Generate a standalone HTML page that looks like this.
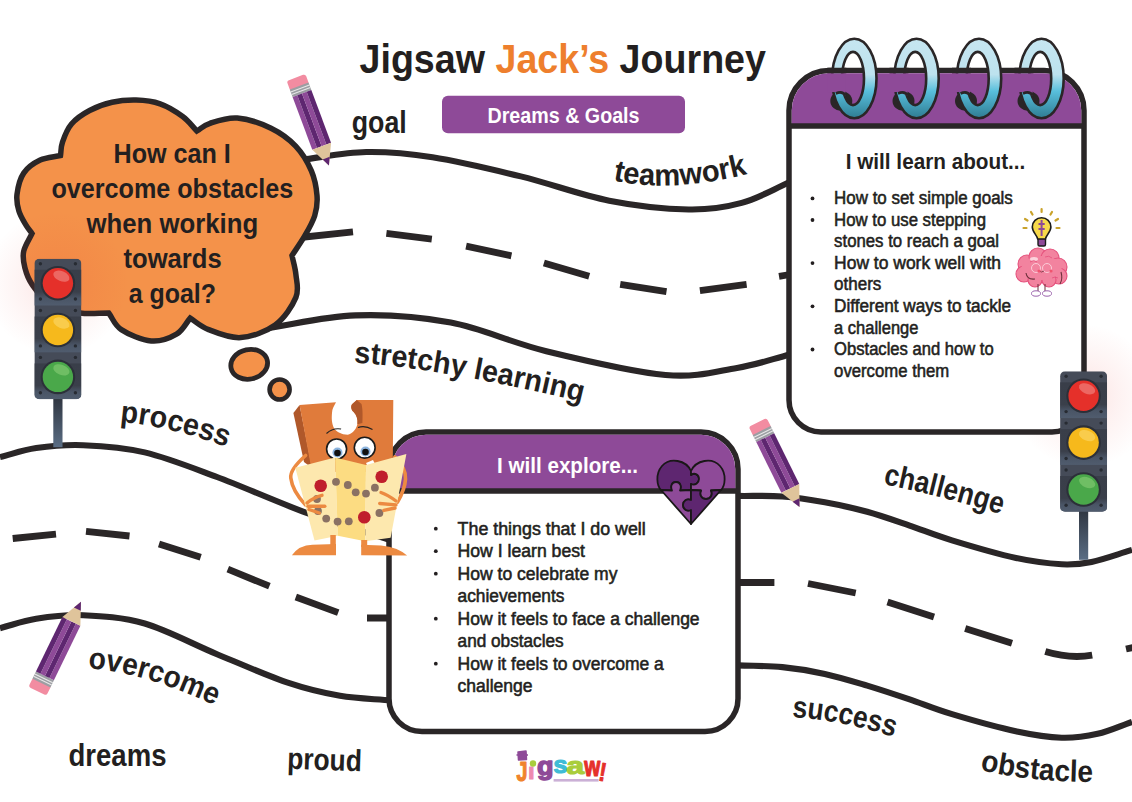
<!DOCTYPE html>
<html><head><meta charset="utf-8">
<style>
html,body{margin:0;padding:0;background:#fff;width:1132px;height:802px;overflow:hidden}
svg{display:block}
text{font-family:"Liberation Sans",sans-serif}
</style></head><body>
<svg width="1132" height="802" viewBox="0 0 1132 802">
<defs>
<linearGradient id="ring" x1="0" y1="0" x2="0" y2="1">
<stop offset="0" stop-color="#c6e6f1"/><stop offset="0.45" stop-color="#bde2ee"/><stop offset="0.66" stop-color="#58bfdc"/><stop offset="1" stop-color="#2f7c92"/>
</linearGradient>
<radialGradient id="glow" cx="0.5" cy="0.5" r="0.5">
<stop offset="0" stop-color="#e8302a" stop-opacity="0.13"/><stop offset="0.5" stop-color="#e8302a" stop-opacity="0.06"/><stop offset="1" stop-color="#e8302a" stop-opacity="0"/>
</radialGradient>
<linearGradient id="tlsec" x1="0" y1="0" x2="0" y2="1">
<stop offset="0" stop-color="#393e49"/><stop offset="0.62" stop-color="#3a3f4a"/><stop offset="0.8" stop-color="#4a5566"/><stop offset="1" stop-color="#505c6e"/>
</linearGradient>
<linearGradient id="pole" x1="0" y1="0" x2="0" y2="1">
<stop offset="0" stop-color="#2f3540"/><stop offset="1" stop-color="#5a6d84"/>
</linearGradient>
</defs>
<g fill="none" stroke="#2a2627" stroke-width="6.1">
<path d="M300.0 160.0 C322.1 157.3 344.2 152.4 366.3 152.0 C388.4 151.6 406.8 153.2 432.5 157.3 C458.2 161.4 491.3 169.2 520.8 176.4 C550.2 183.6 581.2 195.2 609.2 200.7 C637.2 206.2 666.6 209.1 688.7 209.5 C710.8 209.9 724.8 207.5 741.7 202.9 C758.6 198.3 773.9 189.0 790.0 182.0"/>
<path d="M262.0 329.0 C293.1 324.5 323.9 316.5 355.4 315.4 C386.9 314.3 419.0 316.6 450.8 322.6 C482.6 328.6 510.5 342.5 546.3 351.2 C582.1 359.9 633.7 372.2 665.5 375.0 C697.3 377.8 716.2 371.3 737.0 367.9 C757.8 364.5 772.3 359.0 790.0 354.5"/>
<path d="M0.0 457.1 C12.1 454.1 22.3 450.1 36.2 448.1 C50.1 446.1 65.1 444.5 83.2 445.2 C101.3 445.9 122.4 447.1 144.7 452.4 C167.0 457.7 189.9 466.9 217.0 477.0 C244.1 487.1 278.6 502.7 307.4 513.2 C336.2 523.7 362.5 531.1 390.0 540.0"/>
<path d="M738.0 495.9 C752.8 496.1 767.9 495.4 782.4 496.5 C796.9 497.6 810.7 499.8 824.8 502.3 C838.9 504.9 853.1 507.9 867.2 511.8 C881.3 515.7 895.5 520.8 909.6 525.6 C923.7 530.4 934.3 535.0 952.0 540.4 C969.7 545.8 997.7 554.0 1016.0 558.0 C1034.3 562.0 1049.1 563.6 1061.7 564.3 C1074.3 564.9 1079.9 564.3 1091.6 561.9 C1103.3 559.5 1118.5 553.9 1132.0 549.9"/>
<path d="M0.0 628.2 C12.1 625.1 22.3 621.0 36.2 618.8 C50.1 616.6 65.1 614.4 83.2 615.2 C101.3 616.0 122.4 617.0 144.7 623.5 C167.0 630.0 192.9 644.2 217.0 654.2 C241.1 664.2 268.8 676.3 289.3 683.2 C309.8 690.1 322.9 692.9 340.0 695.8 C357.1 698.7 374.7 698.9 392.0 700.5"/>
<path d="M738.0 665.4 C752.8 666.0 767.9 665.7 782.4 667.1 C796.9 668.5 810.7 670.8 824.8 673.9 C838.9 677.0 853.1 681.4 867.2 685.6 C881.3 689.9 895.5 694.6 909.6 699.4 C923.7 704.2 934.1 708.9 952.0 714.2 C969.9 719.6 998.6 727.6 1016.9 731.5 C1035.2 735.4 1048.2 737.3 1061.7 737.7 C1075.2 738.1 1085.9 736.4 1097.6 733.8 C1109.3 731.2 1120.5 725.9 1132.0 721.9"/>
</g>
<g fill="none" stroke="#2a2627" stroke-width="6.8">
<path d="M300.0 237.5L353.0 231.9 M386.4 233.4L431.8 239.1 M466.1 246.2L511.4 255.8 M543.9 262.9L589.2 276.3 M620.2 284.4L666.5 291.6 M699.9 290.6L746.6 284.4 M779.0 276.3L790.0 274.5"/>
<path d="M12.7 538.5L56.0 534.2 M86.0 531.3L129.5 536.0 M159.0 544.0L200.7 557.3 M227.8 569.2L269.4 586.2 M295.8 597.0L338.2 612.6 M367.0 618.0L392.0 618.0"/>
<path d="M738.0 582.5L774.4 582.5 M808.0 583.5L855.7 593.0 M887.5 602.0L934.0 617.0 M965.2 628.4L1012.0 643.2 M1126.0 649.0L1140.0 646.0"/>
<path d="M1045.3 651.6 Q1070 659 1092.2 655.2"/>
</g>
<path d="M60.5 155.5 C61.2 151.0 60.7 147.3 62.5 142.1 C64.3 136.8 67.0 129.3 71.5 124.0 C76.0 118.7 82.8 114.1 89.6 110.5 C96.4 106.9 104.3 104.0 112.1 102.3 C119.8 100.5 128.1 99.8 136.1 100.0 C144.1 100.2 152.3 101.0 160.1 103.8 C167.9 106.5 176.6 112.0 182.7 116.5 C188.8 121.0 192.2 126.2 196.9 131.0 C201.3 128.4 203.3 125.5 210.0 123.3 C216.7 121.1 227.1 117.2 237.3 118.0 C247.5 118.8 261.3 123.5 271.0 128.2 C280.7 132.9 289.0 139.0 295.7 146.1 C302.4 153.2 307.8 162.6 311.4 170.8 C314.9 179.0 316.4 188.0 317.0 195.5 C317.6 203.0 316.8 209.0 314.7 215.7 C312.6 222.4 308.5 229.3 304.7 235.9 C300.9 242.5 296.2 249.0 292.0 255.5 C293.3 261.8 295.2 267.5 295.9 274.5 C296.5 281.5 299.3 289.0 295.9 297.4 C292.4 305.8 284.4 318.3 275.2 325.0 C266.0 331.7 251.9 336.8 240.8 337.6 C229.7 338.4 217.0 332.9 208.6 329.6 C200.2 326.4 196.3 321.9 190.2 318.1 C185.6 323.5 183.0 330.4 176.5 334.2 C170.0 338.0 160.4 341.8 151.2 341.0 C142.0 340.2 128.4 334.3 121.3 329.6 C114.2 324.9 112.9 318.5 108.7 313.0 C99.1 313.0 89.8 314.5 80.0 313.0 C70.2 311.5 58.0 308.8 50.0 304.0 C42.0 299.2 36.2 290.4 32.0 284.4 C27.8 278.4 26.3 273.3 24.9 267.8 C23.5 262.3 22.5 256.9 23.7 251.2 C24.9 245.5 29.2 239.4 32.0 233.5 C30.0 230.7 28.2 228.9 26.0 225.2 C23.8 221.4 20.4 216.1 18.9 211.0 C17.4 205.9 16.2 200.7 17.0 194.4 C17.8 188.1 19.8 178.8 23.7 173.1 C27.6 167.4 34.1 163.0 40.2 160.1 C46.3 157.2 53.7 157.0 60.5 155.5 Z" fill="#f4924a" stroke="#2a2627" stroke-width="5.5" stroke-linejoin="miter"/>
<ellipse cx="249.2" cy="364.3" rx="18.5" ry="14.8" transform="rotate(-12 249.2 364.3)" fill="#f4924a" stroke="#2a2627" stroke-width="4.8"/>
<circle cx="279.6" cy="389.5" r="10" fill="#f4924a" stroke="#2a2627" stroke-width="4.6"/>
<g font-weight="bold" font-size="27" fill="#231f20">
<text x="113.5" y="163.4" textLength="117.3" lengthAdjust="spacingAndGlyphs">How can I</text>
<text x="51.4" y="198" textLength="241.9" lengthAdjust="spacingAndGlyphs">overcome obstacles</text>
<text x="86.5" y="233" textLength="171.7" lengthAdjust="spacingAndGlyphs">when working</text>
<text x="123.5" y="268.3" textLength="98.2" lengthAdjust="spacingAndGlyphs">towards</text>
<text x="128.7" y="302.9" textLength="87.3" lengthAdjust="spacingAndGlyphs">a goal?</text>
</g>
<circle cx="57" cy="283" r="72" fill="url(#glow)"/>
<circle cx="1084" cy="396" r="72" fill="url(#glow)"/>
<text x="359.5" y="72.5" font-weight="bold" font-size="40.5" fill="#231f20" textLength="406.5" lengthAdjust="spacingAndGlyphs">Jigsaw <tspan fill="#ee7f2d">Jack’s</tspan> Journey</text>
<rect x="442" y="95.7" width="243" height="37.6" rx="6" fill="#8e4a98"/>
<text x="487.5" y="123.1" font-weight="bold" font-size="22.5" fill="#fff" textLength="152" lengthAdjust="spacingAndGlyphs">Dreams &amp; Goals</text>
<path d="M789 400 L789 110.5 A40 40 0 0 1 829 70.5 L1044 70.5 A40 40 0 0 1 1084 110.5 L1084 400 A32 32 0 0 1 1052 432 L821 432 A32 32 0 0 1 789 400 Z" fill="#fff" stroke="#2a2627" stroke-width="5.5"/>
<path d="M791.75 126 L791.75 110.5 A37.25 37.25 0 0 1 829 73.25 L1044 73.25 A37.25 37.25 0 0 1 1081.25 110.5 L1081.25 126 Z" fill="#8e4a98"/>
<line x1="789" y1="126" x2="1084" y2="126" stroke="#2a2627" stroke-width="5.5"/>
<ellipse cx="841.3" cy="101" rx="11" ry="10" fill="#2a2627"/>
<path d="M832.0999999999999 78.5 a22.2 39.7 0 1 0 44.4 0 a22.2 39.7 0 1 0 -44.4 0 Z M842.0 78.5 a11 26.6 0 1 1 22 0 a11 26.6 0 1 1 -22 0 Z" fill="url(#ring)" fill-rule="evenodd" stroke="#2a2627" stroke-width="2.6"/>
<path d="M827.3 73.25 L845.3 73.25 L845.3 96 Q836.3 90 827.3 93 Z" fill="#8e4a98"/>
<line x1="827.3" y1="70.5" x2="846.3" y2="70.5" stroke="#2a2627" stroke-width="5.5"/>
<path d="M835.8 93.5 Q842.3 90.5 845.8 95.5" fill="none" stroke="#2a2627" stroke-width="2.6"/>
<ellipse cx="903.5" cy="101" rx="11" ry="10" fill="#2a2627"/>
<path d="M894.3 78.5 a22.2 39.7 0 1 0 44.4 0 a22.2 39.7 0 1 0 -44.4 0 Z M904.2 78.5 a11 26.6 0 1 1 22 0 a11 26.6 0 1 1 -22 0 Z" fill="url(#ring)" fill-rule="evenodd" stroke="#2a2627" stroke-width="2.6"/>
<path d="M889.5 73.25 L907.5 73.25 L907.5 96 Q898.5 90 889.5 93 Z" fill="#8e4a98"/>
<line x1="889.5" y1="70.5" x2="908.5" y2="70.5" stroke="#2a2627" stroke-width="5.5"/>
<path d="M898.0 93.5 Q904.5 90.5 908.0 95.5" fill="none" stroke="#2a2627" stroke-width="2.6"/>
<ellipse cx="966" cy="101" rx="11" ry="10" fill="#2a2627"/>
<path d="M956.8 78.5 a22.2 39.7 0 1 0 44.4 0 a22.2 39.7 0 1 0 -44.4 0 Z M966.7 78.5 a11 26.6 0 1 1 22 0 a11 26.6 0 1 1 -22 0 Z" fill="url(#ring)" fill-rule="evenodd" stroke="#2a2627" stroke-width="2.6"/>
<path d="M952 73.25 L970 73.25 L970 96 Q961 90 952 93 Z" fill="#8e4a98"/>
<line x1="952" y1="70.5" x2="971" y2="70.5" stroke="#2a2627" stroke-width="5.5"/>
<path d="M960.5 93.5 Q967 90.5 970.5 95.5" fill="none" stroke="#2a2627" stroke-width="2.6"/>
<ellipse cx="1028.5" cy="101" rx="11" ry="10" fill="#2a2627"/>
<path d="M1019.3 78.5 a22.2 39.7 0 1 0 44.4 0 a22.2 39.7 0 1 0 -44.4 0 Z M1029.2 78.5 a11 26.6 0 1 1 22 0 a11 26.6 0 1 1 -22 0 Z" fill="url(#ring)" fill-rule="evenodd" stroke="#2a2627" stroke-width="2.6"/>
<path d="M1014.5 73.25 L1032.5 73.25 L1032.5 96 Q1023.5 90 1014.5 93 Z" fill="#8e4a98"/>
<line x1="1014.5" y1="70.5" x2="1033.5" y2="70.5" stroke="#2a2627" stroke-width="5.5"/>
<path d="M1023.0 93.5 Q1029.5 90.5 1033.0 95.5" fill="none" stroke="#2a2627" stroke-width="2.6"/>
<text x="845.7" y="169.3" font-weight="bold" font-size="22" fill="#231f20" textLength="179.7" lengthAdjust="spacingAndGlyphs">I will learn about...</text>
<g font-size="17.5" fill="#231f20" stroke="#231f20" stroke-width="0.55">
<text x="834.1" y="204.0" textLength="178.7" lengthAdjust="spacingAndGlyphs">How to set simple goals</text>
<circle cx="812.5" cy="198.4" r="1.9" stroke="none"/>
<text x="834.1" y="225.6" textLength="151.9" lengthAdjust="spacingAndGlyphs">How to use stepping</text>
<circle cx="812.5" cy="220.0" r="1.9" stroke="none"/>
<text x="834.1" y="247.2" textLength="165.0" lengthAdjust="spacingAndGlyphs">stones to reach a goal</text>
<text x="834.1" y="268.7" textLength="166.9" lengthAdjust="spacingAndGlyphs">How to work well with</text>
<circle cx="812.5" cy="263.1" r="1.9" stroke="none"/>
<text x="834.1" y="290.3" textLength="47.2" lengthAdjust="spacingAndGlyphs">others</text>
<text x="834.1" y="311.9" textLength="177.0" lengthAdjust="spacingAndGlyphs">Different ways to tackle</text>
<circle cx="812.5" cy="306.3" r="1.9" stroke="none"/>
<text x="834.1" y="333.5" textLength="84.3" lengthAdjust="spacingAndGlyphs">a challenge</text>
<text x="834.1" y="355.1" textLength="159.6" lengthAdjust="spacingAndGlyphs">Obstacles and how to</text>
<circle cx="812.5" cy="349.5" r="1.9" stroke="none"/>
<text x="834.1" y="376.6" textLength="115.2" lengthAdjust="spacingAndGlyphs">overcome them</text>
</g>
<path d="M389 698.5 L389 469 A37 37 0 0 1 426 432 L701 432 A37 37 0 0 1 738 469 L738 698.5 A33 33 0 0 1 705 731.5 L422 731.5 A33 33 0 0 1 389 698.5 Z" fill="#fff" stroke="#2a2627" stroke-width="5.5"/>
<path d="M391.75 491 L391.75 469 A34.25 34.25 0 0 1 426 434.75 L701 434.75 A34.25 34.25 0 0 1 735.25 469 L735.25 491 Z" fill="#8e4a98"/>
<line x1="389" y1="491" x2="738" y2="491" stroke="#2a2627" stroke-width="5.5"/>
<text x="497" y="473" font-weight="bold" font-size="22" fill="#fff" textLength="141" lengthAdjust="spacingAndGlyphs">I will explore...</text>
<g font-size="17.5" fill="#231f20" stroke="#231f20" stroke-width="0.55">
<text x="457.6" y="534.6" textLength="188.2" lengthAdjust="spacingAndGlyphs">The things that I do well</text>
<circle cx="435.8" cy="528.7" r="1.9" stroke="none"/>
<text x="457.6" y="557.1" textLength="127.3" lengthAdjust="spacingAndGlyphs">How I learn best</text>
<circle cx="435.8" cy="551.2" r="1.9" stroke="none"/>
<text x="457.6" y="579.6" textLength="159.9" lengthAdjust="spacingAndGlyphs">How to celebrate my</text>
<circle cx="435.8" cy="573.7" r="1.9" stroke="none"/>
<text x="457.6" y="602.1" textLength="106.8" lengthAdjust="spacingAndGlyphs">achievements</text>
<text x="457.6" y="624.6" textLength="242.0" lengthAdjust="spacingAndGlyphs">How it feels to face a challenge</text>
<circle cx="435.8" cy="618.7" r="1.9" stroke="none"/>
<text x="457.6" y="647.1" textLength="106.1" lengthAdjust="spacingAndGlyphs">and obstacles</text>
<text x="457.6" y="669.6" textLength="206.2" lengthAdjust="spacingAndGlyphs">How it feels to overcome a</text>
<circle cx="435.8" cy="663.7" r="1.9" stroke="none"/>
<text x="457.6" y="692.1" textLength="75.0" lengthAdjust="spacingAndGlyphs">challenge</text>
</g>
<g stroke="#1a1718" stroke-width="1.8" stroke-linejoin="round">
<path d="M691 471 C686 460 670 457 662 466 C655 474 657 486 661 490 L672 490.5 C670 486 672 482 676 482 C680 482 682 486 680 490.5 L691 490 L691 484 C695 486 699 483 699 479 C699 475 695 472 691 475 Z" fill="#5e2670"/>
<path d="M691 471 C696 460 712 457 720 466 C727 474 725 486 721 490 L711 490.5 C713 494 711 499 706 499 C701 499 699 494 701 490.5 L691 490 L691 484 C695 486 699 483 699 479 C699 475 695 472 691 475 Z" fill="#8e4a98"/>
<path d="M661 490 L672 490.5 C670 486 672 482 676 482 C680 482 682 486 680 490.5 L691 490 L691 500 C687 498 683 501 683 505 C683 509 687 512 691 510 L691 524 Z" fill="#8e4a98"/>
<path d="M721 490 L711 490.5 C713 494 711 499 706 499 C701 499 699 494 701 490.5 L691 490 L691 500 C687 498 683 501 683 505 C683 509 687 512 691 510 L691 524 Z" fill="#5e2670"/>
</g>
<g transform="translate(34.4 258.7)">
<clipPath id="tl1"><rect x="0" y="0" width="47" height="140.5" rx="5"/></clipPath>
<rect x="18.9" y="138.5" width="9.2" height="50" fill="url(#pole)"/>
<g clip-path="url(#tl1)">
<rect x="0" y="0" width="47" height="140.5" fill="#454b58"/>
<rect x="0" y="11.0" width="47" height="35.8" fill="url(#tlsec)"/>
<circle cx="23.5" cy="24.5" r="17.3" fill="#2c3039"/>
<circle cx="23.5" cy="24.5" r="15.2" fill="#e5302a"/>
<ellipse cx="27.0" cy="17.5" rx="8.5" ry="5" transform="rotate(22 27.0 17.5)" fill="#ee7a76" opacity="0.75"/>
<circle cx="6" cy="5.0" r="1.7" fill="#272b32"/>
<circle cx="6" cy="40.3" r="1.7" fill="#272b32"/>
<circle cx="41" cy="5.0" r="1.7" fill="#272b32"/>
<circle cx="41" cy="40.3" r="1.7" fill="#272b32"/>
<rect x="0" y="57.8" width="47" height="35.8" fill="url(#tlsec)"/>
<circle cx="23.5" cy="71.3" r="17.3" fill="#2c3039"/>
<circle cx="23.5" cy="71.3" r="15.2" fill="#f6b91c"/>
<ellipse cx="27.0" cy="64.3" rx="8.5" ry="5" transform="rotate(22 27.0 64.3)" fill="#fad35c" opacity="0.75"/>
<circle cx="6" cy="51.8" r="1.7" fill="#272b32"/>
<circle cx="6" cy="87.2" r="1.7" fill="#272b32"/>
<circle cx="41" cy="51.8" r="1.7" fill="#272b32"/>
<circle cx="41" cy="87.2" r="1.7" fill="#272b32"/>
<rect x="0" y="104.7" width="47" height="35.8" fill="url(#tlsec)"/>
<circle cx="23.5" cy="118.2" r="17.3" fill="#2c3039"/>
<circle cx="23.5" cy="118.2" r="15.2" fill="#4aa84a"/>
<ellipse cx="27.0" cy="111.2" rx="8.5" ry="5" transform="rotate(22 27.0 111.2)" fill="#7cc56e" opacity="0.75"/>
<circle cx="6" cy="98.7" r="1.7" fill="#272b32"/>
<circle cx="6" cy="134.0" r="1.7" fill="#272b32"/>
<circle cx="41" cy="98.7" r="1.7" fill="#272b32"/>
<circle cx="41" cy="134.0" r="1.7" fill="#272b32"/>
</g></g>
<g transform="translate(1060.1 371.3)">
<clipPath id="tl2"><rect x="0" y="0" width="47" height="140.5" rx="5"/></clipPath>
<rect x="18.9" y="138.5" width="9.2" height="50" fill="url(#pole)"/>
<g clip-path="url(#tl2)">
<rect x="0" y="0" width="47" height="140.5" fill="#454b58"/>
<rect x="0" y="11.0" width="47" height="35.8" fill="url(#tlsec)"/>
<circle cx="23.5" cy="24.5" r="17.3" fill="#2c3039"/>
<circle cx="23.5" cy="24.5" r="15.2" fill="#e5302a"/>
<ellipse cx="27.0" cy="17.5" rx="8.5" ry="5" transform="rotate(22 27.0 17.5)" fill="#ee7a76" opacity="0.75"/>
<circle cx="6" cy="5.0" r="1.7" fill="#272b32"/>
<circle cx="6" cy="40.3" r="1.7" fill="#272b32"/>
<circle cx="41" cy="5.0" r="1.7" fill="#272b32"/>
<circle cx="41" cy="40.3" r="1.7" fill="#272b32"/>
<rect x="0" y="57.8" width="47" height="35.8" fill="url(#tlsec)"/>
<circle cx="23.5" cy="71.3" r="17.3" fill="#2c3039"/>
<circle cx="23.5" cy="71.3" r="15.2" fill="#f6b91c"/>
<ellipse cx="27.0" cy="64.3" rx="8.5" ry="5" transform="rotate(22 27.0 64.3)" fill="#fad35c" opacity="0.75"/>
<circle cx="6" cy="51.8" r="1.7" fill="#272b32"/>
<circle cx="6" cy="87.2" r="1.7" fill="#272b32"/>
<circle cx="41" cy="51.8" r="1.7" fill="#272b32"/>
<circle cx="41" cy="87.2" r="1.7" fill="#272b32"/>
<rect x="0" y="104.7" width="47" height="35.8" fill="url(#tlsec)"/>
<circle cx="23.5" cy="118.2" r="17.3" fill="#2c3039"/>
<circle cx="23.5" cy="118.2" r="15.2" fill="#4aa84a"/>
<ellipse cx="27.0" cy="111.2" rx="8.5" ry="5" transform="rotate(22 27.0 111.2)" fill="#7cc56e" opacity="0.75"/>
<circle cx="6" cy="98.7" r="1.7" fill="#272b32"/>
<circle cx="6" cy="134.0" r="1.7" fill="#272b32"/>
<circle cx="41" cy="98.7" r="1.7" fill="#272b32"/>
<circle cx="41" cy="134.0" r="1.7" fill="#272b32"/>
</g></g>
<g transform="translate(296 77.5) rotate(-20.5)">
<rect x="-10" y="0" width="20" height="11" rx="2.5" fill="#f28ca1"/>
<rect x="-10" y="9" width="20" height="8" fill="#9c9ea3"/>
<rect x="-10" y="11.2" width="20" height="1.1" fill="#e8e8e8"/><rect x="-10" y="13.8" width="20" height="1.1" fill="#e8e8e8"/>
<rect x="-10" y="17" width="5" height="56.3" fill="#8e4a98"/>
<rect x="-5" y="17" width="5" height="56.3" fill="#5e2670"/>
<rect x="0" y="17" width="5" height="56.3" fill="#8e4a98"/>
<rect x="5" y="17" width="5" height="56.3" fill="#5e2670"/>
<path d="M-10 73.3 L10 73.3 L0 94 Z" fill="#dfc49b"/>
<path d="M-3.8 86.1 L3.8 86.1 L0 94 Z" fill="#5e2670"/>
</g>
<g transform="translate(757.7 422.4) rotate(-26.3)">
<rect x="-10" y="0" width="20" height="11" rx="2.5" fill="#f28ca1"/>
<rect x="-10" y="9" width="20" height="8" fill="#9c9ea3"/>
<rect x="-10" y="11.2" width="20" height="1.1" fill="#e8e8e8"/><rect x="-10" y="13.8" width="20" height="1.1" fill="#e8e8e8"/>
<rect x="-10" y="17" width="5" height="56.6" fill="#8e4a98"/>
<rect x="-5" y="17" width="5" height="56.6" fill="#5e2670"/>
<rect x="0" y="17" width="5" height="56.6" fill="#8e4a98"/>
<rect x="5" y="17" width="5" height="56.6" fill="#5e2670"/>
<path d="M-10 73.6 L10 73.6 L0 94.4 Z" fill="#dfc49b"/>
<path d="M-3.8 86.5 L3.8 86.5 L0 94.4 Z" fill="#5e2670"/>
</g>
<g transform="translate(37.5 691.2) rotate(205.9)">
<rect x="-10" y="0" width="20" height="11" rx="2.5" fill="#f28ca1"/>
<rect x="-10" y="9" width="20" height="8" fill="#9c9ea3"/>
<rect x="-10" y="11.2" width="20" height="1.1" fill="#e8e8e8"/><rect x="-10" y="13.8" width="20" height="1.1" fill="#e8e8e8"/>
<rect x="-10" y="17" width="5" height="60.6" fill="#8e4a98"/>
<rect x="-5" y="17" width="5" height="60.6" fill="#5e2670"/>
<rect x="0" y="17" width="5" height="60.6" fill="#8e4a98"/>
<rect x="5" y="17" width="5" height="60.6" fill="#5e2670"/>
<path d="M-10 77.6 L10 77.6 L0 99.5 Z" fill="#dfc49b"/>
<path d="M-3.8 91.2 L3.8 91.2 L0 99.5 Z" fill="#5e2670"/>
</g>
<g>
<path d="M293.4 413 L299.6 405.1 L312 468 L304 462 Z" fill="#b0582a"/>
<path d="M299.6 405.1 L336 402.3 C334 406 332.1 409 332 413 C331.5 418 331.6 424 334.4 428.7 C337 432 341 434.3 347.8 434.8 C352 433.5 356 430 357.4 424.2 C358 419 356.5 415 353.4 411.8 C351 409.5 350.5 406 352.3 404 L356.8 400 L393.3 400 L392.7 472 L312 472 Z" fill="#e07b3b"/>
<path d="M352.3 404 L356.8 400 L361.5 404 C363 410 362.6 418 362.4 423 L357.4 424.2 C358 419 356.5 415 353.4 411.8 C351 409.5 350.5 406 352.3 404 Z" fill="#b0582a"/>
<path d="M326.5 433.5 Q333 427.5 341.1 429" fill="none" stroke="#222" stroke-width="1.1"/>
<path d="M358 427.5 Q365 425 372.5 429.5" fill="none" stroke="#222" stroke-width="1.1"/>
<circle cx="336.6" cy="449" r="10" fill="#fff" stroke="#1b1b1b" stroke-width="1.6"/>
<circle cx="364.7" cy="447.7" r="10.4" fill="#fff" stroke="#1b1b1b" stroke-width="1.6"/>
<circle cx="337.5" cy="452.5" r="5" fill="#8cb4de"/><circle cx="365.5" cy="451.5" r="5" fill="#8cb4de"/>
<circle cx="337.5" cy="453" r="3.3" fill="#111"/><circle cx="365.5" cy="452" r="3.3" fill="#111"/>
<path d="M366 463 L373 460 L375 464 L368 467 Z" fill="#fff"/>
<g fill="none" stroke="#ec8a41" stroke-width="3.6" stroke-linecap="round" stroke-linejoin="round">
<path d="M305.6 455.5 C296 464 290 472 290.8 478 C292 488 299 498 305.6 504.9"/>
<path d="M394.8 456.9 C402 464 406 472 405.5 479 C405 488 401 496 397.5 502.1"/>
</g>
<polygon points="295.3,467.8 335.1,457.5 337.8,535.8 314.5,540.6" fill="#fde8ae"/>
<polygon points="335.1,457.5 366,465 365.3,541.2 337.8,535.8" fill="#fcdc82"/>
<polygon points="366,465 406.4,454 390.6,537.8 365.3,541.2" fill="#fde8ae"/>
<g fill="#c01e2c"><circle cx="320.7" cy="485.7" r="6.3"/><circle cx="381.7" cy="476.8" r="6.3"/><circle cx="364.3" cy="517.2" r="6.3"/></g>
<g fill="#8a7163"><circle cx="336" cy="481.8" r="3.9"/><circle cx="347.8" cy="485" r="3.9"/><circle cx="355.7" cy="492.3" r="3.9"/><circle cx="366" cy="493.6" r="3.9"/><circle cx="374.9" cy="487.7" r="3.9"/><circle cx="379.4" cy="513" r="3.9"/><circle cx="326.2" cy="518.6" r="3.9"/><circle cx="337.6" cy="521.6" r="3.9"/><circle cx="348.8" cy="521.3" r="3.9"/><circle cx="318" cy="511" r="3.9"/><circle cx="317" cy="499" r="3.9"/></g>
<g fill="none" stroke="#ec8a41" stroke-width="3.4" stroke-linecap="round">
<path d="M307 503 Q314 497 322 495.3"/><path d="M308 506.3 L324.8 506.3"/><path d="M309 509.5 L319.3 513"/>
<path d="M396 501 Q388 495 381 492.5"/><path d="M396 504.9 L379.7 503.5"/><path d="M395 508 L383.8 510.4"/>
</g>
<rect x="330.3" y="535" width="5.5" height="11" fill="#ec8a41"/><rect x="361.2" y="540" width="6" height="7" fill="#ec8a41"/>
<path d="M291.9 555.3 Q299 545 312.4 544.7 L336 544 L336 555.3 Z" fill="#ec8a41"/>
<path d="M361.2 555.3 L361.2 544.7 L381 545.4 Q398 547 407.1 555.6 Z" fill="#ec8a41"/>
</g>
<g>
<g stroke="#c9a22a" stroke-width="2.2" stroke-linecap="round">
<path d="M1041.6 209 L1041.6 212"/><path d="M1031 212 L1032.5 214.5"/><path d="M1052 212 L1050.5 214.5"/>
<path d="M1025 219 L1027.5 220.5"/><path d="M1058 219 L1055.5 220.5"/><path d="M1023.5 228 L1026.5 228"/><path d="M1059.5 228 L1056.5 228"/>
</g>
<rect x="1038" y="238" width="7.5" height="8" rx="1.5" fill="#8e4a98" stroke="#1b1b1b" stroke-width="1.4"/>
<path d="M1032.3 227 A9.3 9.3 0 1 1 1050.9 227 C1050.9 232 1046 235 1045.5 239 L1037.7 239 C1037 235 1032.3 232 1032.3 227 Z" fill="#f7d94a" stroke="#1b1b1b" stroke-width="1.6"/>
<path d="M1041.6 220 L1041.6 236 M1038.5 224 L1044.7 224 M1038.5 229 L1044.7 229" stroke="#8e4a98" stroke-width="2"/>
<g fill="#f2839f" stroke="#e5507c" stroke-width="1.1">
<circle cx="1027" cy="264" r="9"/><circle cx="1038" cy="257" r="9"/><circle cx="1050" cy="258" r="9"/><circle cx="1058" cy="267" r="9"/>
<circle cx="1024" cy="274" r="8"/><circle cx="1059" cy="276" r="8"/><circle cx="1035" cy="280" r="7"/><circle cx="1049" cy="280" r="7"/>
</g>
<ellipse cx="1041.6" cy="268" rx="20" ry="12" fill="#f2839f"/>
<ellipse cx="1034" cy="259" rx="4" ry="2" fill="#fbd3dc"/>
<circle cx="1036" cy="268" r="4.5" fill="none" stroke="#fbd3dc" stroke-width="0.9"/><circle cx="1047" cy="268" r="4.5" fill="none" stroke="#fbd3dc" stroke-width="0.9"/>
<path d="M1039 271 Q1041.5 273 1044 271" fill="none" stroke="#6b2f3a" stroke-width="0.8"/>
<circle cx="1039" cy="271" r="1.6" fill="#f0546f"/><circle cx="1051" cy="271" r="1.6" fill="#f0546f"/>
<path d="M1026 273 Q1027 280 1035 279" fill="none" stroke="#6b2f3a" stroke-width="1.1"/><path d="M1061 272 Q1063 279 1060 284" fill="none" stroke="#6b2f3a" stroke-width="1.1"/>
<path d="M1030 262 Q1034 259 1037 262 M1045 257 Q1049 255 1052 258 M1052 278 Q1055 276 1058 278" fill="none" stroke="#e5507c" stroke-width="0.8"/>
<path d="M1038 284 L1038 291 M1045 284 L1045 291" stroke="#6b2f3a" stroke-width="1"/>
<ellipse cx="1036" cy="293.5" rx="4.5" ry="2.7" fill="#fff" stroke="#9b62ad" stroke-width="1"/>
<ellipse cx="1047" cy="293.5" rx="4.5" ry="2.7" fill="#fff" stroke="#9b62ad" stroke-width="1"/>
</g>
<defs>
<path id="wp0" d="M351.7 132.5 L406.8 132.5"/>
<path id="wp1" d="M613 180.5 Q672 193 748 174"/>
<path id="wp2" d="M354 362.5 Q440 368 582 402"/>
<path id="wp3" d="M120 422 Q170 426 229 448"/>
<path id="wp4" d="M883 484 Q938 495 1002 514.5"/>
<path id="wp5" d="M88 668.5 Q140 671 216 706"/>
<path id="wp6" d="M792 717 Q840 720 894 737"/>
<path id="wp7" d="M980 770 Q1030 782 1094 782"/>
<path id="wp8" d="M68.5 766 L166.5 766"/>
<path id="wp9" d="M286.9 768.8 L361.6 771.3"/>
</defs>
<g font-weight="bold" font-size="30.5" fill="#231f20">
<text><textPath href="#wp0" textLength="55.1" lengthAdjust="spacingAndGlyphs">goal</textPath></text>
<text><textPath href="#wp1" textLength="136" lengthAdjust="spacingAndGlyphs">teamwork</textPath></text>
<text><textPath href="#wp2" textLength="232" lengthAdjust="spacingAndGlyphs">stretchy learning</textPath></text>
<text><textPath href="#wp3" textLength="110" lengthAdjust="spacingAndGlyphs">process</textPath></text>
<text><textPath href="#wp4" textLength="122" lengthAdjust="spacingAndGlyphs">challenge</textPath></text>
<text><textPath href="#wp5" textLength="133" lengthAdjust="spacingAndGlyphs">overcome</textPath></text>
<text><textPath href="#wp6" textLength="104" lengthAdjust="spacingAndGlyphs">success</textPath></text>
<text><textPath href="#wp7" textLength="114" lengthAdjust="spacingAndGlyphs">obstacle</textPath></text>
<text><textPath href="#wp8" textLength="98" lengthAdjust="spacingAndGlyphs">dreams</textPath></text>
<text><textPath href="#wp9" textLength="74.7" lengthAdjust="spacingAndGlyphs">proud</textPath></text>
</g>
<g font-weight="bold" stroke-linejoin="round">
<path d="M518 752 L526 751 L526.5 759.5 L518.5 760 Z M516.5 755 L528 755" fill="#8e4a98" stroke="#8e4a98" stroke-width="1.5"/>
<text x="516.5" y="780.7" font-size="28" textLength="11" lengthAdjust="spacingAndGlyphs" fill="#f0842c" stroke="#f0842c" stroke-width="1.2">J</text>
<text x="528" y="779.3" font-size="22" textLength="6.6" lengthAdjust="spacingAndGlyphs" fill="#ee89b0" stroke="#ee89b0" stroke-width="1">ı</text>
<circle cx="533" cy="763.5" r="3.2" fill="#a9cd3c"/>
<text x="537" y="775.3" font-size="25.7" textLength="16.6" lengthAdjust="spacingAndGlyphs" fill="#8e4a98" stroke="#8e4a98" stroke-width="1.4">g</text>
<text x="553.6" y="772.8" font-size="23.7" textLength="13.9" lengthAdjust="spacingAndGlyphs" fill="#3fbcd6" stroke="#3fbcd6" stroke-width="1.2">s</text>
<text x="566.6" y="773.8" font-size="24" textLength="17.6" lengthAdjust="spacingAndGlyphs" fill="#a9cd3c" stroke="#a9cd3c" stroke-width="1.2">a</text>
<text x="584.2" y="775.6" font-size="27" textLength="16" lengthAdjust="spacingAndGlyphs" fill="#e5302a" stroke="#e5302a" stroke-width="1.2">w</text>
<text x="599.5" y="781" font-size="26" textLength="7" lengthAdjust="spacingAndGlyphs" fill="#e5302a" stroke="#e5302a" stroke-width="1" transform="rotate(10 603 771)">!</text>
<rect x="553.6" y="779" width="45" height="2.6" fill="#b58fc4" opacity="0.7"/>
</g>
</svg>
</body></html>
